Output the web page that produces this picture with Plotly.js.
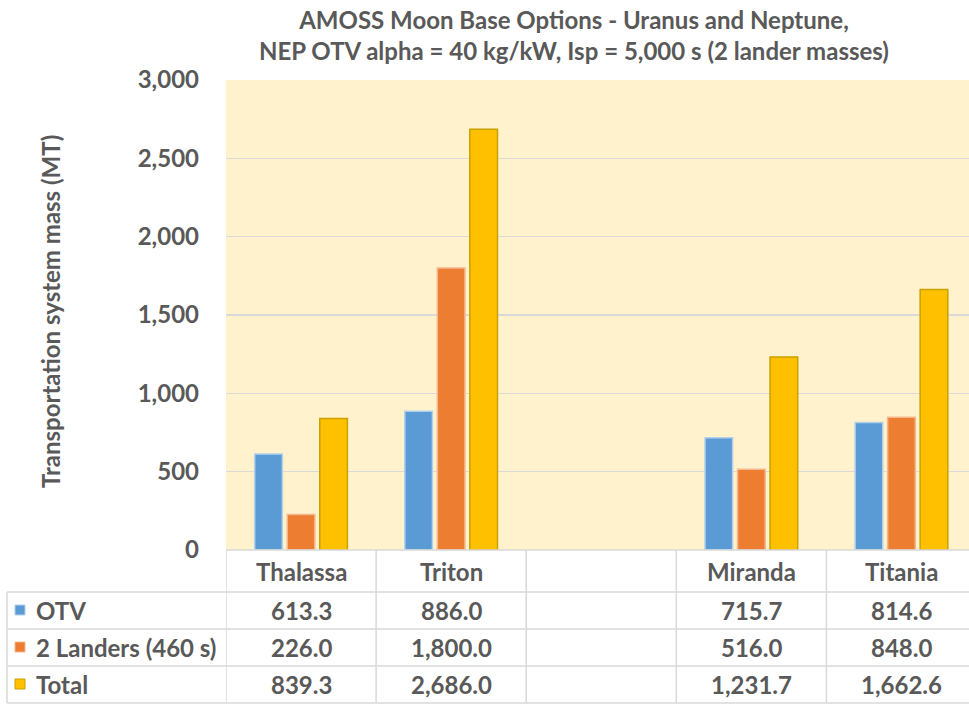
<!DOCTYPE html>
<html>
<head>
<meta charset="utf-8">
<script src="https://cdn.plot.ly/plotly-3.0.1.min.js"></script>
<style>
  html, body { margin: 0; padding: 0; background: #ffffff; }
  #chart { width: 969px; height: 704px; }
</style>
</head>
<body>
<div id="chart"></div>
<script>
// categories (blank slot separates Neptune and Uranus moons)
const moons = ["Thalassa", "Triton", " ", "Miranda", "Titania"];
const otv = [613.3, 886.0, null, 715.7, 814.6];
const landers = [226.0, 1800.0, null, 516.0, 848.0];
const total = [839.3, 2686.0, null, 1231.7, 1662.6];
const seriesNames = ["OTV", "2 Landers (460 s)", "Total"];
const yTicks = [0, 500, 1000, 1500, 2000, 2500, 3000];

const COLORS = ["#5B9BD5", "#ED7D31", "#FFC000"];
const EDGES = ["#B4CFEA", "#F5B88E", "#C9A100"];
const TEXT = "#595959";
const GRID = "#D9D9D9";
const FONT = "Lato, 'Open Sans', sans-serif";
const FS = 24;

// pixel geometry of the plot area (used to place the data table below it)
const W = 969, H = 704;
const L = 226, T = 80, B = 550;
const plotW = W - L, plotH = B - T;
const py = (p) => (B - p) / plotH;   // pixel row -> paper y
const px = (p) => (p - L) / plotW;   // pixel col -> paper x

function fmt(v) {
  return v.toLocaleString("en-US", { minimumFractionDigits: 1, maximumFractionDigits: 1 });
}

const seriesVals = [otv, landers, total];

const traces = seriesVals.map((vals, i) => ({
  type: "bar",
  name: seriesNames[i],
  x: moons,
  y: vals,
  marker: { color: COLORS[i], line: { color: EDGES[i], width: 1.5 } },
  hoverinfo: "x+y+name"
}));

// --- data table drawn under the axis ---
const rowPx = [610, 647, 684];
const lineRows = [592, 629, 666, 703];
const annotations = [];
const shapes = [];
const cellFont = { family: FONT, size: FS, color: TEXT, weight: "bold" };

moons.forEach((m) => {
  annotations.push({
    x: m, xref: "x", xanchor: "center",
    y: py(571), yref: "paper", yanchor: "middle",
    text: m.trim(), showarrow: false, font: cellFont
  });
});

seriesVals.forEach((vals, r) => {
  const yy = py(rowPx[r]);
  vals.forEach((v, c) => {
    if (v === null) return;
    annotations.push({
      x: moons[c], xref: "x", xanchor: "center",
      y: yy, yref: "paper", yanchor: "middle",
      text: fmt(v), showarrow: false, font: cellFont
    });
  });
  // legend label
  annotations.push({
    x: px(34), xref: "paper", xanchor: "left",
    y: yy, yref: "paper", yanchor: "middle",
    text: seriesNames[r], showarrow: false, font: cellFont
  });
  // legend key
  shapes.push({
    type: "rect", xref: "paper", yref: "paper",
    x0: px(15), x1: px(25), y0: py(rowPx[r] - 5), y1: py(rowPx[r] + 5),
    fillcolor: COLORS[r], line: { color: EDGES[r], width: 1 }
  });
});

// horizontal table lines
lineRows.forEach((p) => {
  shapes.push({
    type: "line", xref: "paper", yref: "paper",
    x0: px(7), x1: 1, y0: py(p), y1: py(p),
    line: { color: GRID, width: 1.5 }
  });
});
// left border of the series rows
shapes.push({
  type: "line", xref: "paper", yref: "paper",
  x0: px(7), x1: px(7), y0: py(592), y1: py(703),
  line: { color: GRID, width: 1.5 }
});
// column separators at category boundaries
for (let i = 0; i <= moons.length; i++) {
  shapes.push({
    type: "line", xref: "x", yref: "paper",
    x0: i - 0.5, x1: i - 0.5, y0: 0, y1: py(703),
    line: { color: GRID, width: 1.5 }
  });
}
// axis line at the bottom of the plot area
shapes.push({
  type: "line", xref: "paper", yref: "paper",
  x0: 0, x1: 1, y0: 0, y1: 0,
  line: { color: GRID, width: 1.5 }
});

// y-axis title
annotations.push({
  x: px(50), xref: "paper", xanchor: "center",
  y: py(312), yref: "paper", yanchor: "middle",
  text: "Transportation system mass (MT)", textangle: -90,
  showarrow: false, font: cellFont
});

const layout = {
  width: W, height: H,
  margin: { l: L, r: 0, t: T, b: H - B, pad: 0 },
  paper_bgcolor: "#ffffff",
  plot_bgcolor: "#FFF2CC",
  showlegend: false,
  barmode: "group",
  bargap: 0.35,
  bargroupgap: 0.15,
  title: {
    text: "AMOSS Moon Base Options - Uranus and Neptune,<br>NEP OTV alpha = 40 kg/kW, Isp = 5,000 s (2 lander masses)",
    x: 574 / W, xanchor: "center", xref: "container",
    y: 1 - 29 / H, yanchor: "middle", yref: "container",
    font: { family: FONT, size: FS, color: TEXT, weight: "bold" }
  },
  xaxis: {
    type: "category",
    range: [-0.5, moons.length - 0.5 - 0.05],
    showticklabels: false,
    showgrid: false, zeroline: false, showline: false,
    fixedrange: true
  },
  yaxis: {
    range: [0, 3000],
    tickvals: yTicks,
    ticktext: yTicks.map((v) => v.toLocaleString("en-US")),
    showgrid: true, gridcolor: GRID, gridwidth: 1.5,
    zeroline: false, showline: false,
    ticks: "", ticklabelstandoff: 26,
    tickfont: { family: FONT, size: FS, color: TEXT, weight: "bold" },
    automargin: false,
    fixedrange: true
  },
  annotations: annotations,
  shapes: shapes
};

Plotly.newPlot("chart", traces, layout, { displayModeBar: false, staticPlot: true });
</script>
</body>
</html>
